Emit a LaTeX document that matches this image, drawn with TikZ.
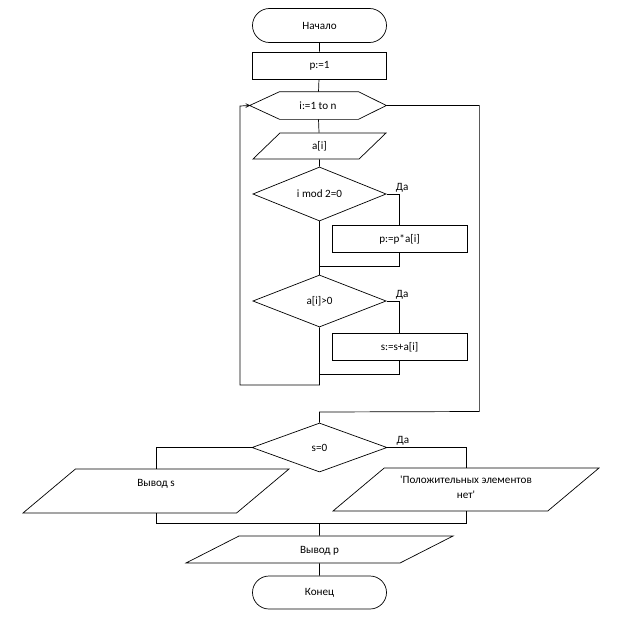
\documentclass[tikz,border=0pt]{standalone}
\usepackage{fontspec}
\setmainfont{Carlito}[Ligatures=TeXOff]
\usetikzlibrary{shapes.geometric,shapes.misc}

\tikzset{
  every node/.style={font=\fontsize{9.5}{12.5}\selectfont},
  term/.style={draw, rounded rectangle, minimum width=4.02cm, minimum height=1.02cm, inner sep=0pt},
  box/.style={draw, rectangle, minimum width=4.05cm, minimum height=0.79cm, inner sep=0pt},
  cond/.style={draw, diamond, minimum width=4cm, inner sep=0pt},
  io/.style={draw, trapezium, trapezium stretches body, inner sep=0pt},
  yes/.style={anchor=south west, inner sep=0pt, xshift=0.27cm, yshift=0.05cm}
}

\begin{document}
\begin{tikzpicture}[x=0.03cm, y=-0.03cm, line width=0.6pt]
  \useasboundingbox (0,0) rectangle (628,616);
  \node[term] (start) at (319.5,25.5) {Начало};
  \node[box, minimum width=4.02cm, minimum height=0.81cm] (p1) at (319.5,65.5) {p:=1};
  \node[minimum width=4.08cm, minimum height=0.81cm, inner sep=0pt] (loop) at (318,105.5) {i:=1 to n};
  \draw (loop.west) -- ([xshift=0.9cm]loop.north west) -- ([xshift=-0.84cm]loop.north east)
    -- (loop.east) -- ([xshift=-0.84cm]loop.south east) -- ([xshift=0.9cm]loop.south west) -- cycle;
  \draw (loop.west) -- ++(-4,1.9) (loop.west) -- ++(-4,-1.8);
  \node[io, minimum width=3.99cm, text height=0.5cm, text depth=0.28cm, trapezium left angle=44, trapezium right angle=136] (inp) at (319.5,146) {a[i]};
  \node[cond, minimum height=1.62cm] (d1) at (319.5,194) {i mod 2=0};
  \node[box] (m1) at (399.5,239) {p:=p*a[i]};
  \node[cond, minimum height=1.56cm] (d2) at (319.5,301) {a[i]>0};
  \node[box] (m2) at (399.5,347) {s:=s+a[i]};
  \node[cond, minimum width=4.05cm, minimum height=1.47cm] (d3) at (319.5,447.5) {s=0};
  \node[io, minimum width=7.98cm, text height=0.51cm, text depth=0.81cm, trapezium left angle=40, trapezium right angle=140] (outs) at (156,491) {Вывод s};
  \node[io, minimum width=7.98cm, text height=0.9cm, text depth=0.39cm, trapezium left angle=40, trapezium right angle=140, align=center] (outno) at (466,489.5) {'Положительных элементов\\нет'};
  \node[io, minimum width=8.01cm, text height=0.52cm, text depth=0.29cm, trapezium left angle=27, trapezium right angle=153] (outp) at (319.5,549.5) {Вывод p};
  \node[term, minimum height=0.99cm] (stop) at (319.5,592.5) {Конец};
  \coordinate (j1) at (319.5,266);
  \coordinate (j2) at (319.5,374);
  \coordinate (j3) at (319.5,523);
  \coordinate (back) at (319.5,385);
  \coordinate (exit) at (319.5,412);

  \draw (start) -- (p1);
  \draw (p1) -- (loop);
  \draw (loop) -- (inp);
  \draw (inp) -- (d1);
  \draw (d1.east) -| (m1.north) node[pos=0, yes] {Да};
  \draw (m1.south) |- (j1);
  \draw (d1.south) -- (j1) -- (d2.north);
  \draw (d2.east) -| (m2.north) node[pos=0, yes] {Да};
  \draw (m2.south) |- (j2);
  \draw (d2.south) -- (back) -- ++(-79.5,0) -- ++(0,-279) -- (loop.west);
  \draw (loop.east) -- ++(93,0) -- ++(0,306) -- (exit) -- (d3.north);
  \draw (d3.west) -| (outs.north);
  \draw (d3.east) -| (outno.north) node[pos=0, yes] {Да};
  \draw (outs.south) |- (j3);
  \draw (outno.south) |- (j3);
  \draw (j3) -- (outp);
  \draw (outp) -- (stop);
\end{tikzpicture}
\end{document}
